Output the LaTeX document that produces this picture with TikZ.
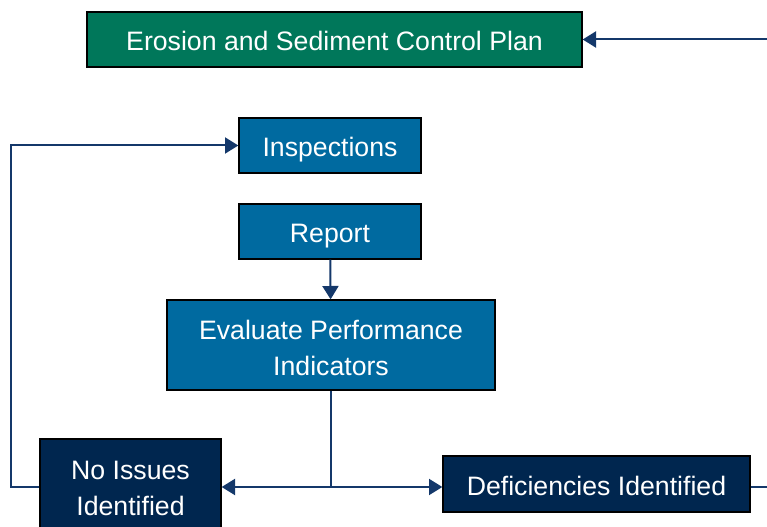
\documentclass[tikz,border=0pt]{standalone}
\usepackage{fontspec}
\setmainfont{Liberation Sans}
\usetikzlibrary{arrows.meta}

\definecolor{plangreen}{HTML}{00775A}
\definecolor{stepblue}{HTML}{006AA0}
\definecolor{navy}{HTML}{00264F}
\definecolor{linkblue}{HTML}{14386A}

\begin{document}
\begin{tikzpicture}[x=0.75pt, y=-0.75pt,
        box/.style={draw=black, line width=1pt, text=white, align=center,
            inner sep=0pt, font=\fontsize{20pt}{27pt}\selectfont,
            text height=17pt, text depth=0pt},
        twoline/.style={text height=45pt, text depth=0pt},
        flow/.style={draw=linkblue, line width=1.5pt,
            -{Triangle[length=10pt, width=12pt]}},
        plain/.style={draw=linkblue, line width=1.5pt}]
        \useasboundingbox (0, 0) rectangle (767, 527);
        \node[box, fill=plangreen, minimum width=495*0.75pt, minimum height=55*0.75pt]
            (plan) at (334.5, 39.5) {Erosion and Sediment Control Plan};
        \node[box, fill=stepblue, minimum width=182*0.75pt, minimum height=55*0.75pt]
            (insp) at (330, 145.5) {Inspections};
        \node[box, fill=stepblue, minimum width=182*0.75pt, minimum height=55*0.75pt]
            (report) at (330, 231.5) {Report};
        \node[box, twoline, fill=stepblue, minimum width=328*0.75pt, minimum height=90*0.75pt]
            (eval) at (331, 345) {Evaluate Performance\\Indicators};
        \node[box, twoline, fill=navy, minimum width=181*0.75pt, minimum height=92*0.75pt]
            (noiss) at (130.5, 485) {No Issues\\Identified};
        \node[box, fill=navy, minimum width=307*0.75pt, minimum height=56*0.75pt]
            (defic) at (596.5, 484) {Deficiencies Identified};
        \coordinate (split) at (331, 487);
        \coordinate (back) at (790, 39.5);
        \coordinate (onward) at (790, 487);
        \draw[flow] (back) -- (plan.east);
        \draw[flow] (report) -- (eval);
        \draw[plain] (eval.south) -- (split);
        \draw[flow] (split) -- (noiss.east |- split);
        \draw[flow] (split) -- (defic.west |- split);
        \draw[plain] (defic.east |- onward) -- (onward);
        \draw[flow] (noiss.west |- split) -- ++(-28, 0) |- (insp.west);
    \end{tikzpicture}
\end{document}
